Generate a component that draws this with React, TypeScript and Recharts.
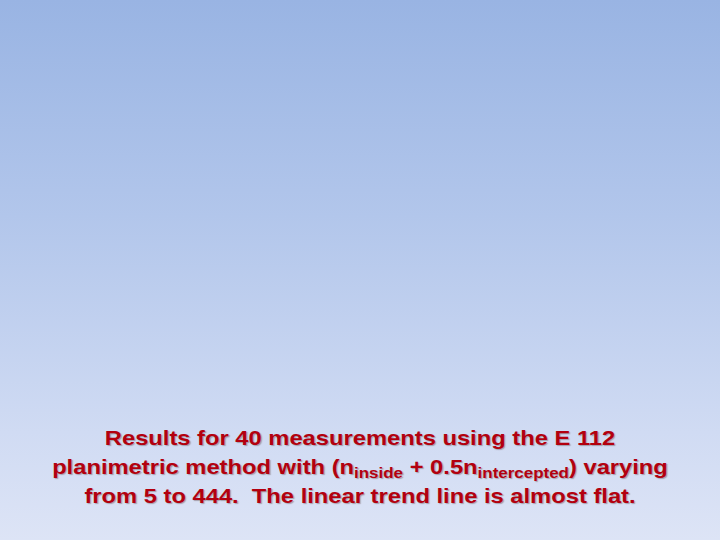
import React from 'react';
import { ComposedChart, XAxis, YAxis, Line } from 'recharts';

// The slide shows no plotted marks, only the caption under an empty plot area.
const points: Array<{ n: number; value: number }> = [];

const captionLine1 = 'Results for 40 measurements using the E 112';
const captionLine2 = ['planimetric method with (n', 'inside', ' + 0.5n', 'intercepted', ') varying'];
const captionLine3 = 'from 5 to 444.  The linear trend line is almost flat.';

const textStyle: React.CSSProperties = {
  fontFamily: '"Liberation Sans", Arial, sans-serif',
  fontWeight: 'bold',
  fontSize: 21,
  color: '#b3000f',
  textShadow: '1px 1px 1px rgba(90, 60, 60, 0.4)',
  lineHeight: '29px',
  textAlign: 'center',
  whiteSpace: 'pre',
  transform: 'scaleX(1.13)',
  transformOrigin: '360px 0',
};

const subStyle: React.CSSProperties = {
  fontSize: 15,
  verticalAlign: '-4px',
  lineHeight: 0,
};

const App: React.FC = () => {
  return (
    <div
      style={{
        position: 'absolute',
        left: 0,
        top: 0,
        width: 720,
        height: 540,
        overflow: 'hidden',
        background: 'linear-gradient(to bottom, #99b4e3 0%, #b2c6eb 40%, #d0dbf3 80%, #dde4f6 100%)',
      }}
    >
      <ComposedChart width={720} height={420} data={points} margin={{ top: 20, right: 20, bottom: 0, left: 20 }}>
        <XAxis dataKey="n" type="number" hide />
        <YAxis hide />
        <Line dataKey="value" stroke="#b3000f" dot={false} isAnimationActive={false} />
      </ComposedChart>
      <div style={{ position: 'absolute', left: 0, top: 423, width: 720, ...textStyle }}>
        <div>{captionLine1}</div>
        <div>
          {captionLine2[0]}
          <span style={subStyle}>{captionLine2[1]}</span>
          {captionLine2[2]}
          <span style={subStyle}>{captionLine2[3]}</span>
          {captionLine2[4]}
        </div>
        <div>{captionLine3}</div>
      </div>
    </div>
  );
};

export default App;
